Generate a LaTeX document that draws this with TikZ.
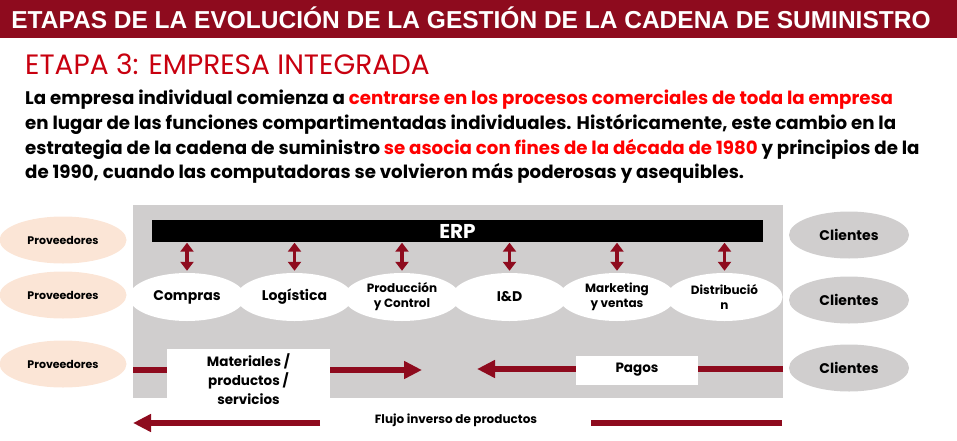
\documentclass[tikz,border=0pt]{standalone}
\usepackage{fontspec}
\usepackage{xcolor}
\usetikzlibrary{arrows.meta,shapes.geometric}

\setmainfont{Poppins}
\newfontfamily\headfont{Liberation Sans}
\definecolor{wine}{HTML}{8E0B1E}
\definecolor{etapared}{HTML}{C8000F}
\definecolor{hired}{HTML}{FF0000}
\definecolor{panelgray}{HTML}{D0CECE}
\definecolor{peach}{HTML}{FBE5D6}

\begin{document}
\begin{tikzpicture}[x=1pt,y=-1pt,
  para/.style={anchor=base west, inner sep=0pt, font=\bfseries\fontsize{18.2}{20}\selectfont},
  dept/.style={ellipse, fill=white, minimum width=116pt, minimum height=48pt, inner sep=0pt, align=center},
  prov/.style={ellipse, fill=peach, minimum width=127pt, minimum height=47pt, inner sep=0pt, font=\bfseries\fontsize{11}{12}\selectfont},
  cli/.style={ellipse, fill=panelgray, minimum width=120pt, minimum height=47pt, inner sep=0pt, font=\bfseries\fontsize{14}{16}\selectfont},
  box/.style={fill=white, inner sep=0pt, align=center},
  flow/.style={wine, line width=6pt},
  tip/.style={-{Triangle[width=17pt,length=18pt]}},
  link/.style={wine, line width=3.5pt, {Triangle[width=13pt,length=9pt]}-{Triangle[width=13pt,length=9pt]}, shorten <=0.5pt, shorten >=2pt}]

  \useasboundingbox (0,0) rectangle (957,441);

  \fill[wine] (0,0) rectangle (957,38);
  \node[anchor=base, text=white, inner sep=0pt, font=\headfont\bfseries\fontsize{24.5}{25}\selectfont] (title) at (471,29) {ETAPAS DE LA EVOLUCIÓN DE LA GESTIÓN DE LA CADENA DE SUMINISTRO};

  \node[anchor=base west, inner sep=0pt, text=etapared, font=\fontsize{28}{30}\selectfont] (etapa) at (25,75) {ETAPA 3: EMPRESA INTEGRADA};
  \node[para] (line1) at (25,105) {La empresa individual comienza a \textcolor{hired}{centrarse en los procesos comerciales de toda la empresa}};
  \node[para] (line2) at (25,129.5) {en lugar de las funciones compartimentadas individuales. Históricamente, este cambio en la};
  \node[para] (line3) at (25,154) {estrategia de la cadena de suministro \textcolor{hired}{se asocia con fines de la década de 1980} y principios de la};
  \node[para] (line4) at (25,178) {de 1990, cuando las computadoras se volvieron más poderosas y asequibles.};

  \fill[panelgray] (133,205) rectangle (783,398);

  \node[fill=black, minimum width=611pt, minimum height=22pt, inner sep=0pt, text=white, font=\bfseries\fontsize{20}{20}\selectfont] (erp) at (457.5,231) {ERP};

  \node[dept, font=\bfseries\fontsize{14}{15}\selectfont] (compras) at (187,297) {Compras};
  \node[dept, font=\bfseries\fontsize{14}{15}\selectfont] (logistica) at (294.5,297) {Logística};
  \node[dept, font=\bfseries\fontsize{12}{15}\selectfont] (produccion) at (402,297) {Producción\\y Control};
  \node[dept, font=\bfseries\fontsize{14}{15}\selectfont] (iyd) at (509.5,297) {I\&D};
  \node[dept, font=\bfseries\fontsize{12}{15}\selectfont] (marketing) at (617,297) {Marketing\\y ventas};
  \node[dept, font=\bfseries\fontsize{12}{15}\selectfont] (distribucion) at (724.5,297) {Distribució\\n};

  \foreach \d in {compras,logistica,produccion,iyd,marketing,distribucion}
    \draw[link] (erp.south -| \d) -- (\d.north);

  \node[prov] (prov1) at (63,240) {Proveedores};
  \node[prov] (prov2) at (63,295) {Proveedores};
  \node[prov] (prov3) at (63,364) {Proveedores};

  \node[cli] (cli1) at (849,235) {Clientes};
  \node[cli] (cli2) at (849,300) {Clientes};
  \node[cli] (cli3) at (849,368) {Clientes};

  \node[box, minimum width=163pt, minimum height=60pt, font=\bfseries\fontsize{13.5}{19}\selectfont] (materiales) at (248.5,379) {Materiales /\\productos /\\servicios};
  \node[box, minimum width=122pt, minimum height=29pt, font=\bfseries\fontsize{13.5}{15}\selectfont] (pagos) at (637,370) {Pagos};
  \node[inner sep=0pt, font=\bfseries\fontsize{12}{13}\selectfont] (flujo) at (456,420) {Flujo inverso de productos};

  \coordinate (matIn) at (133,370);
  \coordinate (matOut) at (422,370);
  \coordinate (pagIn) at (783,369);
  \coordinate (pagOut) at (477,369);
  \coordinate (revIn) at (782,423);
  \coordinate (revMid) at (591,423);
  \coordinate (revGo) at (320,423);
  \coordinate (revOut) at (133,423);

  \draw[flow] (matIn) -- (materiales.west |- matIn);
  \draw[flow, tip] (materiales.east |- matIn) -- (matOut);
  \draw[flow] (pagIn) -- (pagos.east |- pagIn);
  \draw[flow, tip] (pagos.west |- pagIn) -- (pagOut);
  \draw[flow] (revIn) -- (revMid);
  \draw[flow, tip] (revGo) -- (revOut);
\end{tikzpicture}
\end{document}
